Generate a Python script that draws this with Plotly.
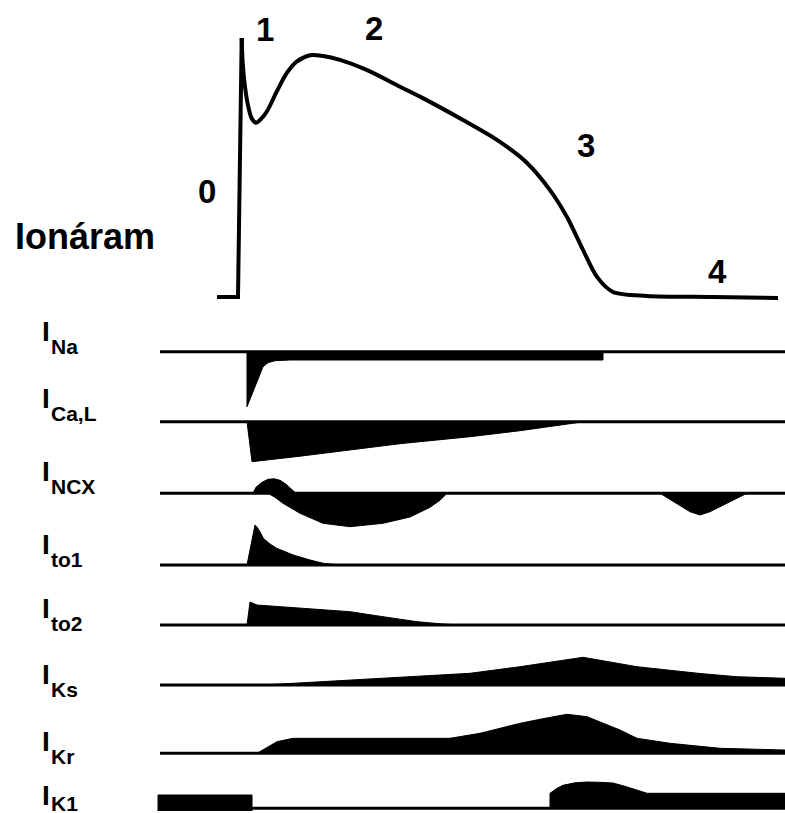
import plotly.graph_objects as go

# ---------------- DATA ----------------
# Action potential: time (chart time units) and membrane potential (mV)
ap_up_t = [217, 238, 241.7]
ap_up_v = [-85, -85, 40]
ap_t = [241.7, 242.7, 245, 248.3, 251.7, 256, 260, 266.7, 276.7, 286.7,
        296.7, 310, 323.3, 340, 366.7, 400, 420, 463, 497, 527, 550, 567, 583, 597,
        613, 647, 713, 778]
ap_v = [40, 27.9, 16.5, 6.8, 1.2, -0.9, 0.4, 4.4, 14.1, 23.0,
        28.6, 31.7, 31.3, 29.4, 24.6, 16.5, 11.7, 0.4, -9.2, -20.3, -33.4, -46.4, -62.3, -75.3,
        -82.6, -84.5, -85, -85.5]

phase_labels = ["0", "1", "2", "3", "4"]

current_main = "I"
current_subs = ["Na", "Ca,L", "NCX", "to1", "to2", "Ks", "Kr", "K1"]

# ionic currents: time and amplitude (outward positive / inward negative), arbitrary units
ina_t = [247, 247, 251, 255, 259, 263, 268, 275, 290, 603, 603]
ina_i = [0, -55, -45, -35, -25, -15, -11, -9, -8.3, -8.3, 0]

ical_t = [247, 252, 300, 350, 400, 470, 520, 577, 580]
ical_i = [0, -40, -34.5, -28.5, -22, -15, -9, -1, 0]

incx_bump_t = [253, 256, 262, 268, 274, 280, 286, 291, 296]
incx_bump_i = [0, 6, 11, 14, 14.5, 13, 9, 4, 0]
incx_lobe_t = [268, 275, 283, 300, 323, 350, 383, 410, 430, 440, 447]
incx_lobe_i = [0, -4, -10, -20, -30, -33.4, -30, -23.7, -14, -7, 0]
incx_late_t = [660, 677, 690, 700, 710, 730, 747]
incx_late_i = [0, -10, -18.4, -21.7, -18.4, -8.4, 0]

ito1_t = [247, 255, 256.7, 260, 263.3, 270, 276.7, 293.3, 310, 323.3, 340]
ito1_i = [0, 40, 38.3, 33.3, 26.7, 21, 16.7, 10, 5, 1.7, 0]

ito2_t = [247, 250, 257, 300, 350, 383, 417, 443, 460]
ito2_i = [0, 23, 20, 17, 13.3, 8.3, 3.3, 1, 0]

iks_t = [263, 350, 470, 520, 575, 583, 590, 637, 700, 737, 785, 785]
iks_i = [0, 5, 11.7, 18.3, 26.5, 27.7, 26.5, 18.3, 11.5, 8.3, 6.7, 0]

ikr_t = [257, 266, 277, 293, 450, 480, 520, 545, 567, 587, 620, 637, 670, 720, 785, 785]
ikr_i = [0, 5, 11.6, 15, 15, 20, 30, 35, 39, 36.6, 23.3, 15, 10, 5, 3.3, 0]

ik1_rest_t = [158, 158, 252, 252]
ik1_rest_i = [-2.7, 13.3, 13.3, -2.7]
ik1_t = [550, 550, 557, 563, 575, 587, 600, 613, 625, 637, 647, 785, 785]
ik1_i = [0, 15, 20, 23, 25.5, 26.3, 26, 25.3, 22, 18, 15, 15, 0]

trace_start, trace_end = 160, 785

# ---------------- LAYOUT / STYLE ----------------
W, H = 785, 813
row_base = [351.7, 421.7, 493.3, 565, 625, 685, 753.3, 808.3]   # baseline of each row (px units)
label_main_y = [331, 398, 471, 544, 608, 674, 741, 795]          # px from top
label_sub_y = [346, 413, 486, 559, 623, 689, 756, 803.5]
FONT = "Arial, Liberation Sans, sans-serif"

fig = go.Figure()

# Action potential on its own mV axis
fig.add_trace(go.Scatter(x=ap_up_t, y=ap_up_v, mode="lines", yaxis="y2",
                         line=dict(color="black", width=4), hoverinfo="skip"))
fig.add_trace(go.Scatter(x=ap_t, y=ap_v, mode="lines", yaxis="y2",
                         line=dict(color="black", width=4, shape="spline", smoothing=0.8),
                         hoverinfo="skip"))

rows = [
    [(ina_t, ina_i)],
    [(ical_t, ical_i)],
    [(incx_bump_t, incx_bump_i), (incx_lobe_t, incx_lobe_i), (incx_late_t, incx_late_i)],
    [(ito1_t, ito1_i)],
    [(ito2_t, ito2_i)],
    [(iks_t, iks_i)],
    [(ikr_t, ikr_i)],
    [(ik1_rest_t, ik1_rest_i), (ik1_t, ik1_i)],
]

for base, shapes in zip(row_base, rows):
    fig.add_trace(go.Scatter(x=[trace_start, trace_end], y=[base, base], mode="lines",
                             line=dict(color="black", width=3), hoverinfo="skip"))
    for t, amp in shapes:
        fig.add_trace(go.Scatter(x=t, y=[base - a for a in amp], mode="lines",
                                 fill="toself", fillcolor="black",
                                 line=dict(color="black", width=1), hoverinfo="skip"))

annotations = []
# phase numbers
phase_pos = [(206.5, 191.5), (265, 29.5), (374, 28.5), (586, 145), (717, 271.5)]
for lab, (x, y) in zip(phase_labels, phase_pos):
    annotations.append(dict(x=x, y=y, xref="x", yref="y", text=f"<b>{lab}</b>", showarrow=False,
                            font=dict(family=FONT, size=33, color="black"),
                            xanchor="center", yanchor="middle"))
annotations.append(dict(x=85, y=236, xref="x", yref="y", text="<b>Ionáram</b>", showarrow=False,
                        font=dict(family=FONT, size=36, color="black"),
                        xanchor="center", yanchor="middle"))
for sub, ym, ys in zip(current_subs, label_main_y, label_sub_y):
    annotations.append(dict(x=40 / W, y=1 - ym / H, xref="paper", yref="paper",
                            text=f"<b>{current_main}</b>", showarrow=False,
                            font=dict(family=FONT, size=28, color="black"),
                            xanchor="left", yanchor="middle"))
    annotations.append(dict(x=48.5 / W, y=1 - ys / H, xref="paper", yref="paper",
                            text=f"<b>{sub}</b>", showarrow=False,
                            font=dict(family=FONT, size=21, color="black"),
                            xanchor="left", yanchor="middle"))

r2_lo, r2_hi = -90, 45
px_per_mv = (297 - 38) / 125.0
px_lo = 297 + (-85 - r2_lo) * px_per_mv
px_hi = 38 - (r2_hi - 40) * px_per_mv

fig.update_layout(
    width=W, height=H,
    margin=dict(l=0, r=0, t=0, b=0),
    paper_bgcolor="white", plot_bgcolor="rgba(0,0,0,0)",
    showlegend=False,
    xaxis=dict(range=[0, W], visible=False, fixedrange=True),
    yaxis=dict(range=[H, 0], visible=False, fixedrange=True, domain=[0, 1]),
    yaxis2=dict(range=[r2_lo, r2_hi], visible=False, fixedrange=True, anchor="x",
                domain=[1 - px_lo / H, 1 - px_hi / H]),
    annotations=annotations,
)

fig.write_html("out.html", config={"displayModeBar": False},
               post_script="document.body.style.margin='0';document.body.style.overflow='hidden';"
                           "document.documentElement.style.overflow='hidden';")
